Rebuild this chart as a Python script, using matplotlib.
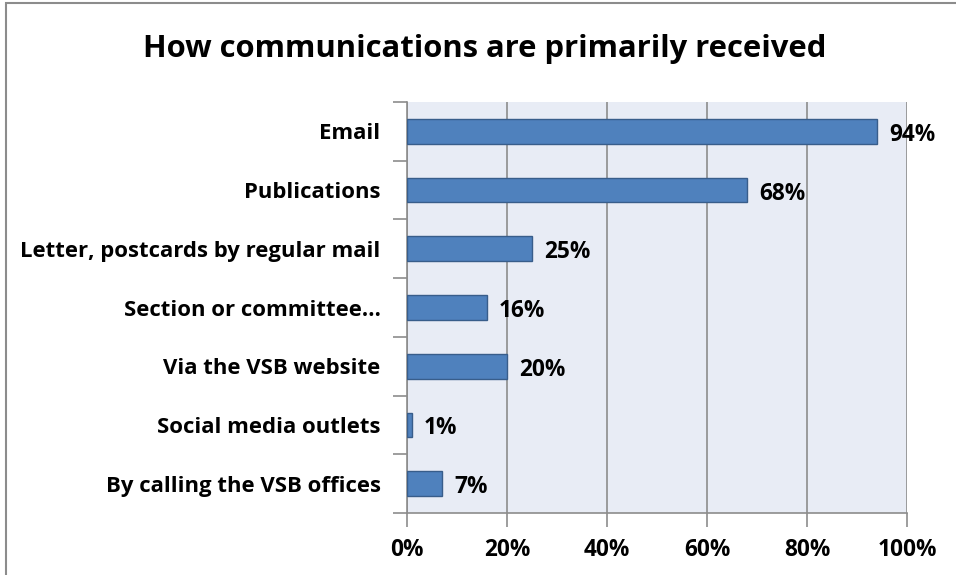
import numpy as np
import matplotlib.pyplot as plt
from matplotlib.patches import Rectangle

# Data
categories = ['Email', 'Publications', 'Letter, postcards by regular mail',
              'Section or committee\u2026', 'Via the VSB website',
              'Social media outlets', 'By calling the VSB offices']
values = [94, 68, 25, 16, 20, 1, 7]
xticks = [0, 20, 40, 60, 80, 100]

plt.rcParams['font.family'] = ['Open Sans', 'DejaVu Sans']

fig = plt.figure(figsize=(9.56, 5.75), dpi=100)
ax = fig.add_axes([0.4257, 0.1078, 0.5230, 0.7148])

# outer chart border (left/top visible)
fig.patches.append(Rectangle((6 / 956, -0.01), 1.1, 1 - 3 / 575 + 0.01,
                             transform=fig.transFigure, fill=False,
                             edgecolor='#8c8c8c', linewidth=1.5))

y = np.arange(len(categories))
ax.set_facecolor('#E8ECF5')
ax.barh(y, values, height=0.42, color='#4F81BD', edgecolor='#385D8A', linewidth=1, zorder=3)

for yi, v in zip(y, values):
    ax.text(v + 2.4, yi + 0.06, f'{v}%', va='center', ha='left',
            fontsize=16.3, fontweight='bold', zorder=4)

ax.set_xlim(0, 100)
ax.set_ylim(len(categories) - 0.5, -0.5)
ax.set_xticks(xticks)
ax.set_xticklabels([f'{t}%' for t in xticks], fontsize=16.3, fontweight='bold')
ax.set_yticks(y)
ax.set_yticklabels(categories, fontsize=15.9, fontweight='bold')
ax.set_yticks(np.arange(-0.5, len(categories), 1), minor=True)

ax.tick_params(axis='y', which='major', length=0, pad=19)
ax.tick_params(axis='y', which='minor', length=10, width=1.2, color='#8c8c8c', direction='out')
ax.tick_params(axis='x', length=10, width=1.2, color='#8c8c8c', direction='out', pad=8)

ax.grid(axis='x', color='#8c8c8c', linewidth=1.2, zorder=0)
for s in ['top', 'right']:
    ax.spines[s].set_visible(False)
for s in ['left', 'bottom']:
    ax.spines[s].set_color('#8c8c8c')
    ax.spines[s].set_linewidth(1.2)

fig.text(0.5075, 0.915, 'How communications are primarily received',
         ha='center', va='center', fontsize=22.3, fontweight='bold')

fig.savefig('out.png', dpi=100)
